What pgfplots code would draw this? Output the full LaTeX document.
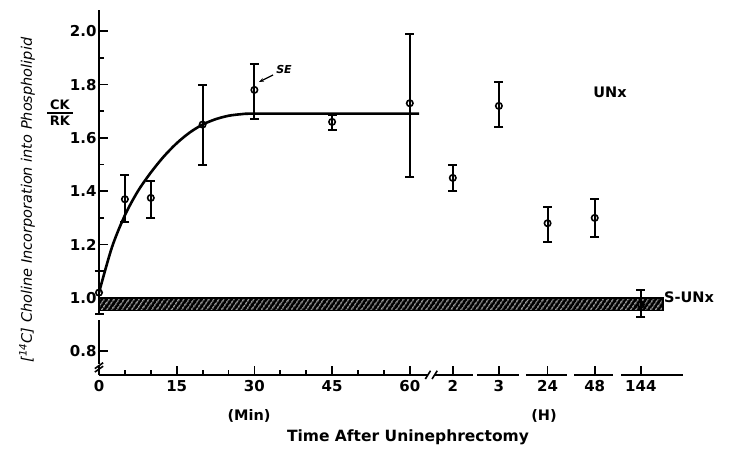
\documentclass[border=0pt]{standalone}
\usepackage{fontspec}
\setmainfont{DejaVu Sans}
\usepackage{pgfplots}
\pgfplotsset{compat=1.18}
\usepackage{pgfplotstable}
\usetikzlibrary{patterns.meta,arrows.meta}

\pgfplotstableread{
x y ep em
0 1.02 0.08 0.08
5 1.37 0.09 0.085
10 1.375 0.065 0.075
20 1.65 0.15 0.15
30 1.78 0.097 0.11
45 1.66 0.026 0.03
60 1.73 0.26 0.275
68.3 1.45 0.05 0.05
77.2 1.72 0.09 0.08
86.6 1.28 0.06 0.07
95.7 1.30 0.07 0.07
104.6 0.975 0.055 0.045
}\unx

\pgfplotstableread{
x y
0 1.02
2.5 1.19
5 1.31
7.5 1.40
10 1.47
12.5 1.53
15 1.58
17.5 1.62
20 1.65
22.5 1.67
25 1.683
27.5 1.689
30 1.691
45 1.691
61.8 1.691
}\fitcurve

\begin{document}
\begin{tikzpicture}[x=1pt,y=1pt]
\useasboundingbox (0,0) rectangle (740,451);
\begin{axis}[
  at={(99pt,76pt)}, anchor=south west,
  x=5.18pt, y=266.7pt,
  xmin=0, xmax=112.7, ymin=0.711, ymax=2.08,
  clip=false,
  axis line style={draw=none},
  tick align=inside,
  xtick pos=left, ytick pos=left,
  major tick length=9pt, minor tick length=5pt,
  tick style={line width=1.8pt, black},
  xtick={0,15,30,45,60,68.3,77.2,86.6,95.7,104.6},
  xticklabels={0,15,30,45,60,2,3,24,48,144},
  minor xtick={5,10,20,25,35,40,50,55},
  ytick={0.8,1.0,1.2,1.4,1.6,1.8,2.0},
  yticklabels={0.8,1.0,1.2,1.4,1.6,1.8,2.0},
  minor ytick={1.1,1.3,1.5,1.7,1.9},
  ticklabel style={font=\bfseries\fontsize{15}{15}\selectfont},
  xticklabel style={yshift=-2pt},
  yticklabel style={xshift=1pt},
]
% S-UNx hatched band
\addplot[draw=black, line width=1.5pt, fill=black,
  postaction={pattern={Lines[angle=55, distance=4pt, line width=1pt]}, pattern color=white}]
  coordinates {(0,0.952) (108.9,0.952) (108.9,1.0) (0,1.0) (0,0.952)};
% axis segments
\addplot[line width=2pt] coordinates {(0,0.711) (63.5,0.711)};
\addplot[line width=2pt] coordinates {(64.7,0.711) (72.2,0.711)};
\addplot[line width=2pt] coordinates {(73.0,0.711) (81.1,0.711)};
\addplot[line width=2pt] coordinates {(82.4,0.711) (90.3,0.711)};
\addplot[line width=2pt] coordinates {(91.7,0.711) (99.2,0.711)};
\addplot[line width=2pt] coordinates {(100.8,0.711) (112.7,0.711)};
\addplot[line width=1.6pt] coordinates {(63.0,0.696) (64.0,0.727)};
\addplot[line width=1.6pt] coordinates {(64.3,0.696) (65.3,0.727)};
\addplot[line width=2pt] coordinates {(0,0.711) (0,0.727)};
\addplot[line width=2pt] coordinates {(0,0.752) (0,0.918)};
\addplot[line width=2pt] coordinates {(0,0.94) (0,2.08)};
\addplot[line width=1.6pt] coordinates {(-0.8,0.722) (0.8,0.744)};
\addplot[line width=1.6pt] coordinates {(-0.8,0.735) (0.8,0.757)};
% fitted curve
\addplot[line width=2.6pt, smooth, tension=0.5] table[x=x,y=y] {\fitcurve};
% error bars
\addplot[draw=none, mark=none, forget plot,
  error bars/.cd, y dir=both, y explicit,
  error bar style={draw=black, solid, line width=2pt},
  error mark options={draw=black, solid, rotate=90, mark size=4.5pt, line width=2pt}]
  table[x=x, y=y, y error plus=ep, y error minus=em] {\unx};
\addplot[only marks, mark=o, mark size=3.2pt, line width=1.6pt, mark options={fill=white, draw=black}]
  table[x=x, y=y] {\unx};
\end{axis}
% texts
\node[font=\bfseries\fontsize{13}{13}\selectfont] at (60,346) {CK};
\draw[line width=1.6pt] (47,338) -- (73,338);
\node[font=\bfseries\fontsize{13}{13}\selectfont] at (60,330) {RK};
\node[rotate=90, font=\itshape\fontsize{14.5}{14.5}\selectfont] at (27,251)
  {[\textsuperscript{14}C] Choline Incorporation into Phospholipid};
\node[font=\bfseries\fontsize{14.5}{14.5}\selectfont] at (610,359) {UNx};
\node[font=\bfseries\fontsize{14.5}{14.5}\selectfont] at (689,154) {S-UNx};
\node[font=\bfseries\itshape\fontsize{11}{11}\selectfont] at (284,382) {SE};
\draw[line width=1.2pt, -{Stealth[length=5pt]}] (273,376) -- (259,369);
\node[font=\bfseries\fontsize{14.5}{14.5}\selectfont] at (249,35) {(Min)};
\node[font=\bfseries\fontsize{14.5}{14.5}\selectfont] at (544,35) {(H)};
\node[font=\bfseries\fontsize{15.5}{15.5}\selectfont] at (408,14) {Time After Uninephrectomy};
\end{tikzpicture}
\end{document}
